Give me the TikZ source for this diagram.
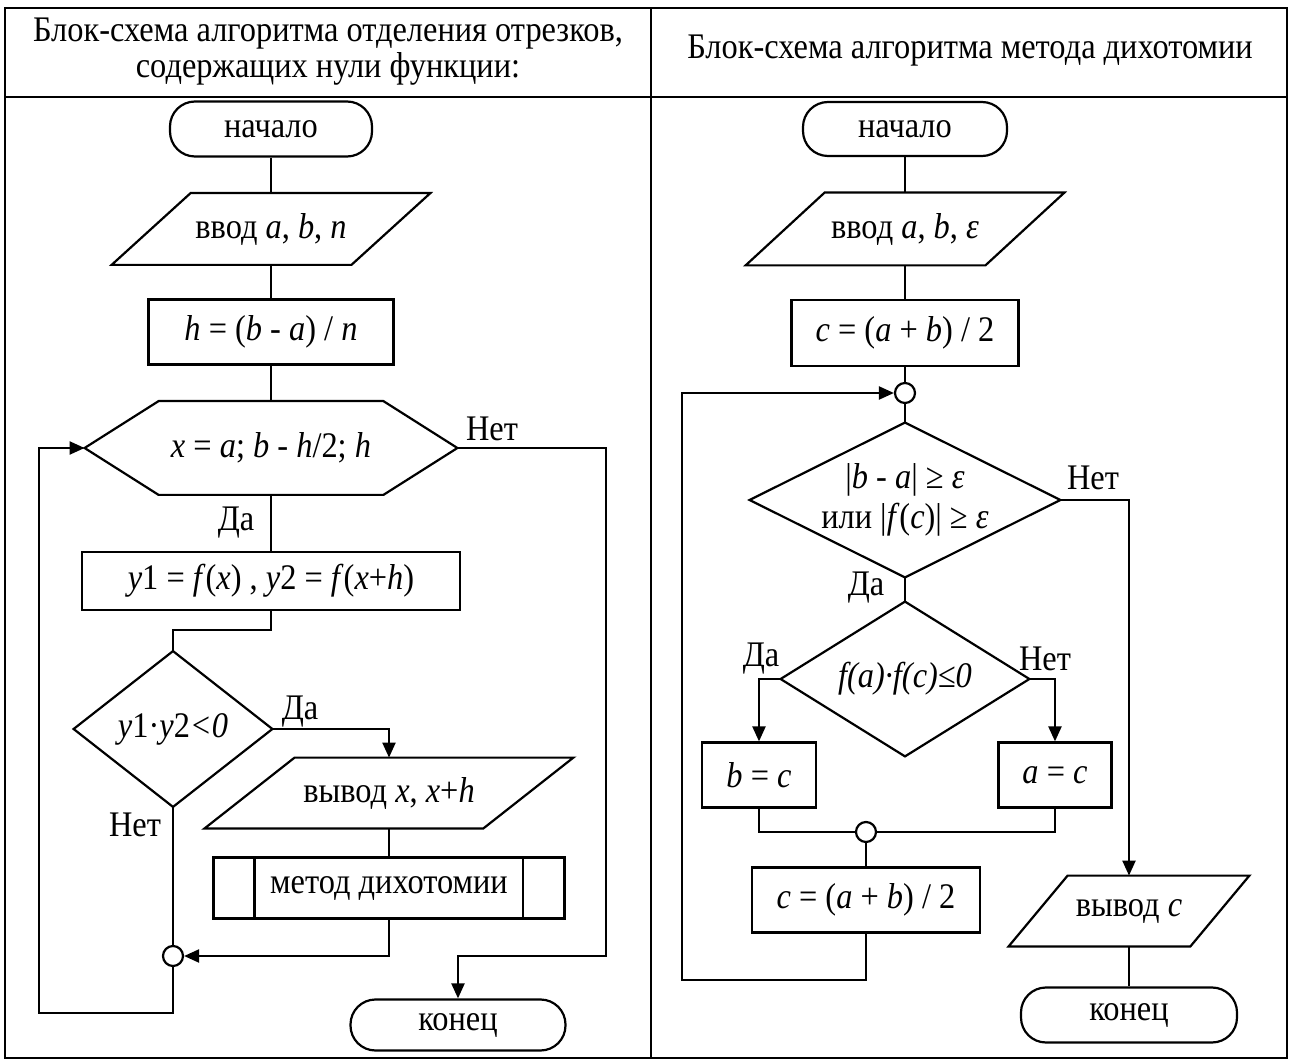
\documentclass[tikz,border=0pt]{standalone}
\usepackage{fontspec}
\setmainfont[FakeStretch=0.9]{Liberation Serif}
\usetikzlibrary{arrows.meta}
\begin{document}
\begin{tikzpicture}[x=0.5pt,y=-0.5pt,
  ln/.style={line width=1.1pt, line join=miter},
  arr/.style={ln, -{Triangle[length=7.5pt,width=6.5pt]}},
  txt/.style={font=\fontsize{18}{18}\selectfont, inner sep=0pt, align=center},
  shp/.style={txt, shape=rectangle},
  boxnode/.style={shp, draw, line width=1.1pt},
  term/.style={boxnode, rounded corners=12.5pt},
  jn/.style={circle, draw, line width=1.1pt, minimum size=10pt, inner sep=0pt, fill=white},
  lbl/.style={font=\fontsize{18}{18}\selectfont, inner sep=0pt},
  frame/.style={line width=0.8pt}]
\useasboundingbox (0,0) rectangle (1292,1064);
% table frame
\draw[frame] (5,8) rectangle (1287,1058);
\draw[frame] (5,97) -- (1287,97);
\draw[frame] (651,8) -- (651,1058);
\node[txt] (h1) at (328,52) {Блок-схема алгоритма отделения отрезков,\\содержащих нули функции:};
\node[txt] (h2) at (970,51) {Блок-схема алгоритма метода дихотомии};

% ---------------- left chart ----------------
\node[term, minimum width=101pt, minimum height=27.5pt] (s1) at (271,129) {начало};
\node[shp, minimum width=159pt, minimum height=35.5pt] (in1) at (271,229) {ввод \textit{a}, \textit{b}, \textit{n}};
\draw[ln] ([xshift=39.5pt]in1.north west) -- (in1.north east) -- ([xshift=-39.5pt]in1.south east) -- (in1.south west) -- cycle;
\node[boxnode, minimum width=122.5pt, minimum height=32.5pt] (p1) at (271,332) {\textit{h} = (\textit{b} - \textit{a}) / \textit{n}};
\node[shp, minimum width=186pt, minimum height=46.5pt] (hex) at (271,448) {\textit{x} = \textit{a}; \textit{b} - \textit{h}/2; \textit{h}};
\draw[ln] ([xshift=37pt]hex.north west) -- ([xshift=-37pt]hex.north east) -- (hex.east) -- ([xshift=-37pt]hex.south east) -- ([xshift=37pt]hex.south west) -- (hex.west) -- cycle;
\node[boxnode, minimum width=189pt, minimum height=29pt] (p2) at (271,581) {\textit{y}1 = \textit{f}(\textit{x}) , \textit{y}2 = \textit{f}(\textit{x}+\textit{h})};
\node[shp, minimum width=99pt, minimum height=77.5pt] (d1) at (173,729) {\textit{y}1·\textit{y}2\textit{<0}};
\draw[ln] (d1.north) -- (d1.east) -- (d1.south) -- (d1.west) -- cycle;
\node[shp, minimum width=184pt, minimum height=35pt] (out1) at (389,793) {вывод \textit{x}, \textit{x}+\textit{h}};
\draw[ln] ([xshift=45pt]out1.north west) -- (out1.north east) -- ([xshift=-45pt]out1.south east) -- (out1.south west) -- cycle;
\node[boxnode, minimum width=175.5pt, minimum height=30.5pt] (sub) at (389,888) {метод дихотомии};
\draw[ln] ([xshift=21pt]sub.north west) -- ([xshift=21pt]sub.south west);
\draw[ln] ([xshift=-21.5pt]sub.north east) -- ([xshift=-21.5pt]sub.south east);
\node[jn] (j1) at (173,956) {};
\node[term, minimum width=107.5pt, minimum height=25.5pt] (e1) at (458,1025) {конец};

\draw[ln] (s1) -- (in1);
\draw[ln] (in1) -- (p1);
\draw[ln] (p1) -- (hex.north);
\draw[ln] (hex.south) -- (p2.north);
\draw[ln] (p2.south) -- (p2.south |- 0,630) -| (d1.north);
\draw[arr] (d1.east) -| (out1.north);
\draw[ln] (out1.south) -- (sub.north);
\draw[arr] (sub.south) |- (j1.east);
\draw[ln] (d1.south) -- (j1.north);
\draw[arr] (j1.south) -- (j1.south |- 0,1013) -| (39,448) -- (hex.west);
\draw[arr] (hex.east) -| (606,956) -| (e1.north);

\node[lbl] (l1) at (492,429) {Нет};
\node[lbl] (l2) at (236,523) {Да};
\node[lbl] (l3) at (300,712) {Да};
\node[lbl] (l4) at (135,825) {Нет};

% ---------------- right chart ----------------
\node[term, minimum width=102pt, minimum height=27pt] (s2) at (905,129) {начало};
\node[shp, minimum width=159pt, minimum height=36pt] (in2) at (905,229) {ввод \textit{a}, \textit{b}, \textit{ε}};
\draw[ln] ([xshift=39.5pt]in2.north west) -- (in2.north east) -- ([xshift=-39.5pt]in2.south east) -- (in2.south west) -- cycle;
\node[boxnode, minimum width=113.5pt, minimum height=33pt] (p3) at (905,333) {\textit{c} = (\textit{a} + \textit{b}) / 2};
\node[jn] (j2) at (905,393) {};
\node[shp, minimum width=155pt, minimum height=77pt] (d2) at (905,500) {|\textit{b} - \textit{a}| ≥ \textit{ε}\\[2pt]или |\textit{f}(\textit{c})| ≥ \textit{ε}};
\draw[ln] (d2.north) -- (d2.east) -- (d2.south) -- (d2.west) -- cycle;
\node[shp, minimum width=124pt, minimum height=77pt] (d3) at (905,679) {\textit{f(a)·f(c)≤0}};
\draw[ln] (d3.north) -- (d3.east) -- (d3.south) -- (d3.west) -- cycle;
\node[boxnode, minimum width=57pt, minimum height=32.5pt] (p4) at (759,775) {\textit{b} = \textit{c}};
\node[boxnode, minimum width=56.5pt, minimum height=32.5pt] (p5) at (1055,775) {\textit{a} = \textit{c}};
\node[jn] (j3) at (866,832) {};
\node[boxnode, minimum width=114pt, minimum height=32.5pt] (p6) at (866,900) {\textit{c} = (\textit{a} + \textit{b}) / 2};
\node[shp, minimum width=120pt, minimum height=35pt] (out2) at (1129,911) {вывод \textit{c}};
\draw[ln] ([xshift=29.5pt]out2.north west) -- (out2.north east) -- ([xshift=-29.5pt]out2.south east) -- (out2.south west) -- cycle;
\node[term, minimum width=108pt, minimum height=27.5pt] (e2) at (1129,1015) {конец};

\draw[ln] (s2) -- (in2);
\draw[ln] (in2) -- (p3);
\draw[ln] (p3) -- (j2);
\draw[ln] (j2) -- (d2.north);
\draw[arr] (d2.east) -| (out2.north);
\draw[ln] (d2.south) -- (d3.north);
\draw[arr] (d3.west) -| (p4.north);
\draw[arr] (d3.east) -| (p5.north);
\draw[ln] (p4.south) |- (j3.west);
\draw[ln] (p5.south) |- (j3.east);
\draw[ln] (j3) -- (p6);
\draw[arr] (p6.south) -- (p6.south |- 0,980) -| (682,393) -- (j2.west);
\draw[ln] (out2.south) -- (e2.north);

\node[lbl] (l5) at (1093,478) {Нет};
\node[lbl] (l6) at (866,588) {Да};
\node[lbl] (l7) at (761,659) {Да};
\node[lbl] (l8) at (1045,659) {Нет};
\end{tikzpicture}
\end{document}
